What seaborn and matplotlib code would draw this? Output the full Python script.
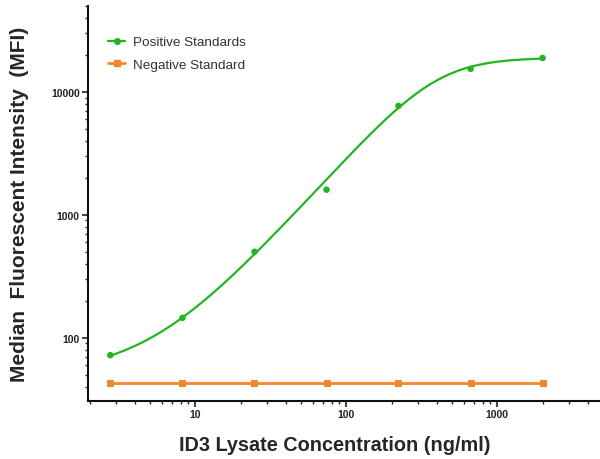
import numpy as np
import pandas as pd
import seaborn as sns
import matplotlib.pyplot as plt
from matplotlib.lines import Line2D
from matplotlib.ticker import FuncFormatter, LogLocator, NullFormatter

# standards: 3-fold dilution series (ng/ml)
conc = [2.74, 8.23, 24.7, 74.1, 222, 667, 2000]
positive_mfi = [72, 145, 500, 1600, 7700, 15400, 18900]
negative_mfi = [43, 43, 43, 43, 43, 43, 43]

# 5PL fit parameters
fit_bottom = 50
fit_top = 19000
fit_ec = 397
fit_hill = 2.2
fit_asym = 0.62

green = '#22b422'
orange = '#f0882a'

sns.set_style('ticks')
plt.rcParams['font.family'] = ['Liberation Sans', 'DejaVu Sans']

df_pos = pd.DataFrame({'conc': conc, 'mfi': positive_mfi})
df_neg = pd.DataFrame({'conc': conc, 'mfi': negative_mfi})

xs = np.logspace(np.log10(conc[0]), np.log10(conc[-1]), 300)
ys = fit_bottom + (fit_top - fit_bottom) / (1 + (fit_ec / xs) ** fit_hill) ** fit_asym
df_fit = pd.DataFrame({'conc': xs, 'mfi': ys})

fig = plt.figure(figsize=(6, 4.6), dpi=100)
ax = fig.add_axes([0.1467, 0.126, 0.8533, 0.8587])

sns.lineplot(data=df_fit, x='conc', y='mfi', color=green, linewidth=1.6, ax=ax)
sns.scatterplot(data=df_pos, x='conc', y='mfi', color=green, s=22, edgecolor='none', ax=ax, zorder=3)
sns.lineplot(data=df_neg, x='conc', y='mfi', color=orange, linewidth=2, marker='s',
             markersize=5, markeredgecolor=orange, ax=ax)

ax.set_xscale('log')
ax.set_yscale('log')
ax.set_xlim(1.95, 4800)
ax.set_ylim(30.5, 50000)

fmt = FuncFormatter(lambda v, p: '%d' % v)
ax.xaxis.set_major_formatter(fmt)
ax.yaxis.set_major_formatter(fmt)
ax.xaxis.set_minor_locator(LogLocator(base=10, subs=np.arange(2, 10)))
ax.yaxis.set_minor_locator(LogLocator(base=10, subs=np.arange(2, 10)))
ax.xaxis.set_minor_formatter(NullFormatter())
ax.yaxis.set_minor_formatter(NullFormatter())

ax.tick_params(axis='both', which='major', length=4, width=1.2, labelsize=7.5, colors='#222222', pad=2)
ax.tick_params(axis='both', which='minor', length=2.5, width=1)
for lab in ax.get_xticklabels() + ax.get_yticklabels():
    lab.set_fontweight('bold')

for s in ['left', 'bottom']:
    ax.spines[s].set_linewidth(1.5)
    ax.spines[s].set_color('#111111')
sns.despine(ax=ax)

ax.set_xlabel('ID3 Lysate Concentration (ng/ml)', fontsize=14.3, fontweight='bold')
ax.xaxis.set_label_coords(0.482, -0.085)
ax.set_ylabel('Median  Fluorescent Intensity  (MFI)', fontsize=15, fontweight='bold', labelpad=16)

handles = [
    Line2D([], [], color=green, linewidth=1.6, marker='o', markersize=4),
    Line2D([], [], color=orange, linewidth=2, marker='s', markersize=4),
]
ax.legend(handles, ['Positive Standards', 'Negative Standard'], loc='upper left',
          bbox_to_anchor=(0.015, 0.955), frameon=False, fontsize=9.7, handlelength=1.3,
          handletextpad=0.6, labelspacing=0.75, labelcolor='#333333')

fig.savefig('out.png', dpi=100)
